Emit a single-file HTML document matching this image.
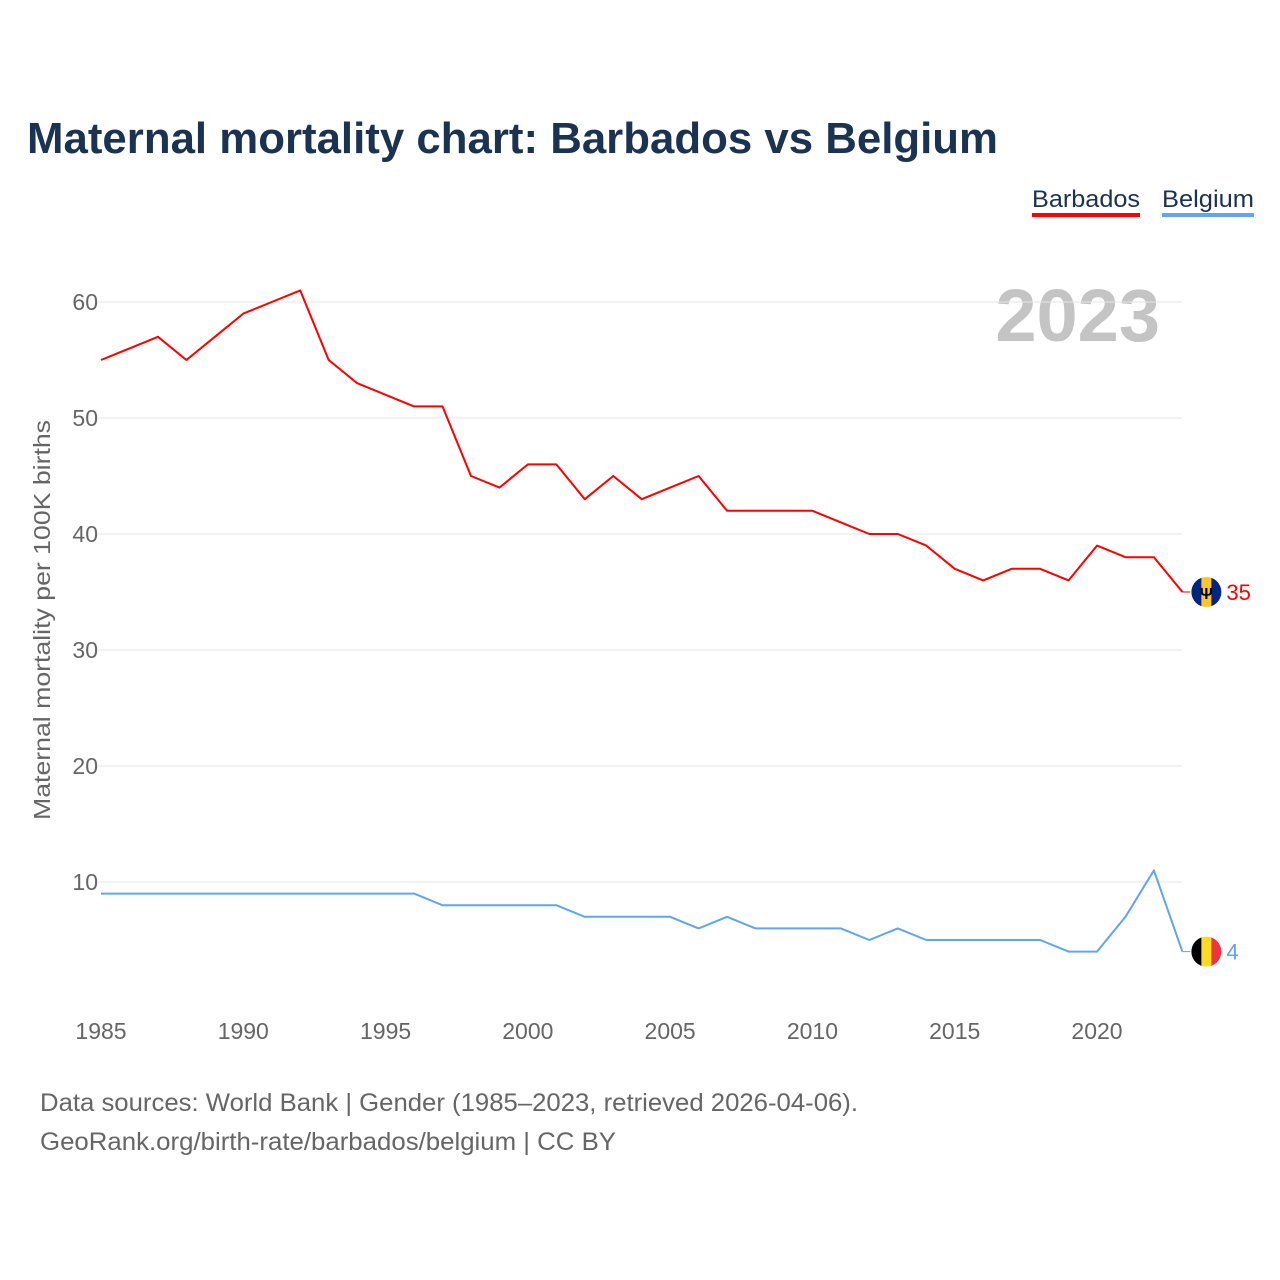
<!DOCTYPE html>
<html><head><meta charset="utf-8"><style>
body{margin:0;background:#fff}
svg{display:block;font-family:"Liberation Sans",sans-serif}
</style></head><body>
<svg width="1280" height="1280" viewBox="0 0 1280 1280">
<text x="27" y="153" font-size="44" font-weight="bold" fill="#1b3352" textLength="971" lengthAdjust="spacingAndGlyphs">Maternal mortality chart: Barbados vs Belgium</text>
<g>
<text x="1032" y="207" font-size="24" fill="#1b3352" textLength="108" lengthAdjust="spacingAndGlyphs">Barbados</text>
<rect x="1032" y="213" width="108" height="4" fill="#ff0000"/>
<text x="1162" y="207" font-size="24" fill="#1b3352" textLength="92" lengthAdjust="spacingAndGlyphs">Belgium</text>
<rect x="1162" y="213" width="92" height="4" fill="#5fa6ee"/>
</g>
<text x="1160" y="341" font-size="74" font-weight="bold" fill="#c4c4c4" text-anchor="end">2023</text>
<text transform="translate(50,620) rotate(-90)" font-size="23" fill="#666" text-anchor="middle" textLength="400" lengthAdjust="spacingAndGlyphs">Maternal mortality per 100K births</text>
<g id="grid"></g><g id="xt"></g><g id="lines"></g>
<text x="40" y="1111" font-size="25" fill="#666" textLength="818" lengthAdjust="spacingAndGlyphs">Data sources: World Bank | Gender (1985–2023, retrieved 2026-04-06).</text>
<text x="40" y="1150" font-size="25" fill="#666" textLength="576" lengthAdjust="spacingAndGlyphs">GeoRank.org/birth-rate/barbados/belgium | CC BY</text>
</svg>
<script>
const years=[];for(let y=1985;y<=2023;y++)years.push(y);
const barbados=[55,56,57,55,57,59,60,61,55,53,52,51,51,45,44,46,46,43,45,43,44,45,42,42,42,42,41,40,40,39,37,36,37,37,36,39,38,38,35];
const belgium=[9,9,9,9,9,9,9,9,9,9,9,9,8,8,8,8,8,7,7,7,7,6,7,6,6,6,6,5,6,5,5,5,5,5,4,4,7,11,4];
const yTicks=[10,20,30,40,50,60];
const xTicks=[1985,1990,1995,2000,2005,2010,2015,2020];
const NS="http://www.w3.org/2000/svg";
const X=y=>101+(y-1985)*(1097-101)/35;
const Y=v=>998-v*11.6;
function mk(t,a,p){const e=document.createElementNS(NS,t);for(const k in a)e.setAttribute(k,a[k]);p.appendChild(e);return e;}
const g=document.getElementById('grid');
yTicks.forEach(v=>{
const l=mk('line',{x1:98,x2:1182,y1:Y(v),y2:Y(v),stroke:'#e6e6e6','stroke-width':1},g);


const t=mk('text',{x:98,y:Y(v)+8,'font-size':23,fill:'#666','text-anchor':'end'},g);t.textContent=v;


});
const xt=document.getElementById('xt');
xTicks.forEach(v=>{
const t=mk('text',{x:X(v),y:1039,'font-size':23,fill:'#666','text-anchor':'middle'},xt);t.textContent=v;


});
const L=document.getElementById('lines');
function series(vals,col,name,flag){
const pts=vals.map((v,i)=>X(years[i])+','+Y(v)).join(' ');
const p=mk('polyline',{points:pts,fill:'none',stroke:col,'stroke-width':2,'stroke-linejoin':'round'},L);


const last=vals[vals.length-1],lx=X(2023),ly=Y(last);
mk('line',{x1:lx,x2:lx+8,y1:ly,y2:ly,stroke:col,'stroke-width':1},L);
const fg=mk('g',{},L);


const cx=lx+24,r=15;
const cp=mk('clipPath',{id:'c'+name},fg);mk('circle',{cx:cx,cy:ly,r:r},cp);
flag.forEach((c,i)=>mk('rect',{x:cx-r+i*2*r/3,y:ly-r,width:2*r/3+0.5,height:2*r,fill:c,'clip-path':'url(#c'+name+')'},fg));
if(name==='barbados'){const tt=mk('text',{x:cx,y:ly+7,'font-size':16,'font-weight':'bold','text-anchor':'middle',fill:'#000'},fg);tt.textContent='Ψ';}
const t=mk('text',{x:lx+44,y:ly+8,'font-size':22,fill:col},L);t.textContent=last;


}
series(barbados,'#ff0000','barbados',['#00267f','#ffc726','#00267f']);
series(belgium,'#5fa6ee','belgium',['#000','#fdda24','#ef3340']);
</script>
</body></html>
